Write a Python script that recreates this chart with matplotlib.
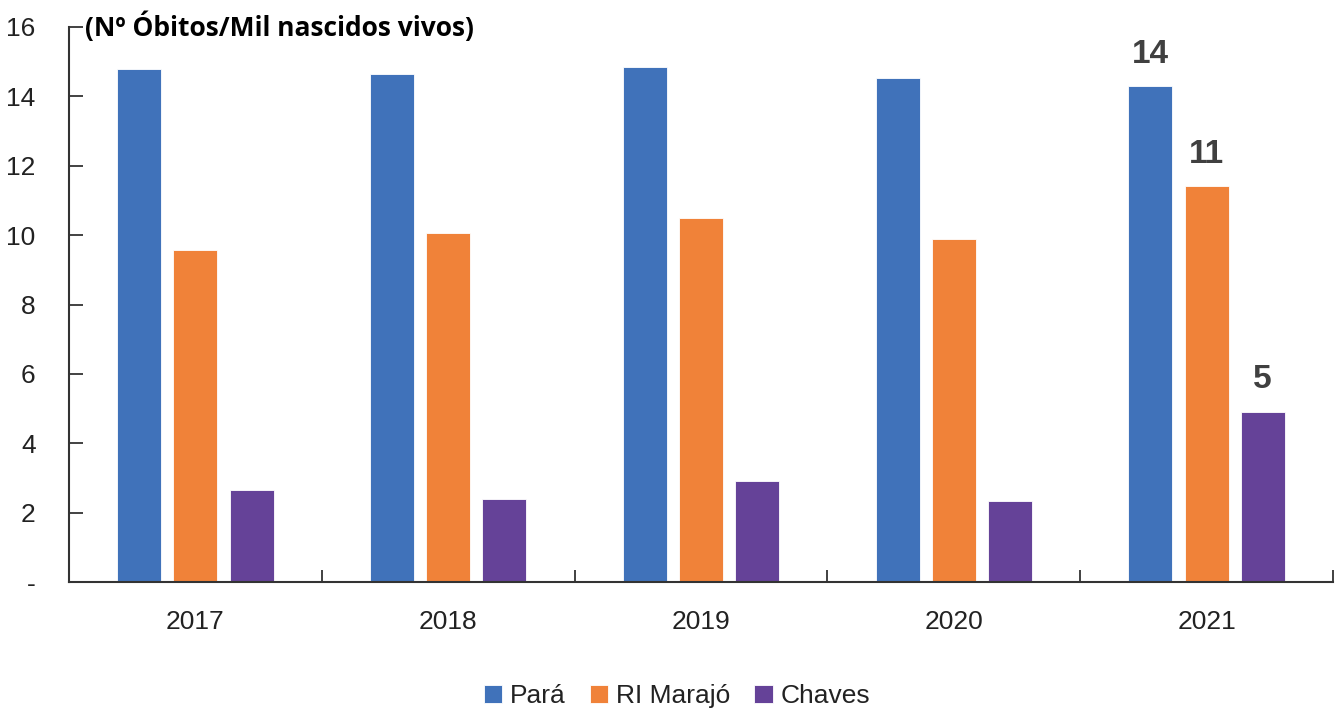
import numpy as np
import matplotlib.pyplot as plt
from matplotlib.ticker import FixedLocator

anos = ["2017", "2018", "2019", "2020", "2021"]
para = [14.78, 14.64, 14.84, 14.52, 14.29]
ri_marajo = [9.57, 10.06, 10.49, 9.88, 11.41]
chaves = [2.65, 2.39, 2.91, 2.33, 4.90]
series = ["Pará", "RI Marajó", "Chaves"]
rotulos_2021 = ["14", "11", "5"]

cores = ["#4072BA", "#F08239", "#654298"]
plt.rcParams["font.family"] = ["Liberation Sans", "DejaVu Sans"]

fig = plt.figure(figsize=(13.4, 7.1), dpi=100)
ax = fig.add_axes([69 / 1340, 128 / 710, 1264 / 1340, 555 / 710])

x = np.arange(len(anos))
passo = 0.222
largura = 0.174
for i, (vals, nome) in enumerate(zip([para, ri_marajo, chaves], series)):
    ax.bar(x + (i - 1) * passo, vals, largura, color=cores[i], label=nome,
           edgecolor="white", linewidth=0.6)
    ax.text(x[-1] + (i - 1) * passo, vals[-1] + 0.68, rotulos_2021[i],
            ha="center", va="baseline", fontsize=24, fontweight="bold",
            color="#404040")

ax.set_xlim(-0.5, 4.5)
ax.set_ylim(0, 16)
ax.set_xticks(x)
ax.set_xticklabels(anos)
ax.xaxis.set_minor_locator(FixedLocator(np.arange(-0.5, 5, 1)))
ax.tick_params(axis="x", which="major", length=0, pad=20, labelsize=19,
               labelcolor="#222222")
ax.tick_params(axis="x", which="minor", direction="in", length=9,
               width=1.3, color="#333333")
ax.set_yticks(np.arange(0, 17, 2))
ax.set_yticklabels(["-"] + [str(v) for v in range(2, 17, 2)])
ax.tick_params(axis="y", direction="in", length=10, width=1.3,
               color="#333333", pad=24, labelsize=19, labelcolor="#222222")

for s in ["top", "right"]:
    ax.spines[s].set_visible(False)
for s in ["left", "bottom"]:
    ax.spines[s].set_color("#333333")
    ax.spines[s].set_linewidth(1.5)

fig.text(85 / 1340, 1 - 27 / 710, "(Nº Óbitos/Mil nascidos vivos)",
         ha="left", va="center", fontsize=19, fontweight="bold",
         family=["Open Sans", "DejaVu Sans"], color="black")

fig.legend(loc="center", bbox_to_anchor=(677 / 1340, 1 - 696 / 710), ncol=3,
           frameon=False, fontsize=19, handlelength=0.7, handleheight=0.7,
           handletextpad=0.3, columnspacing=0.9, labelcolor="#222222")

fig.savefig("out.png", dpi=100)
